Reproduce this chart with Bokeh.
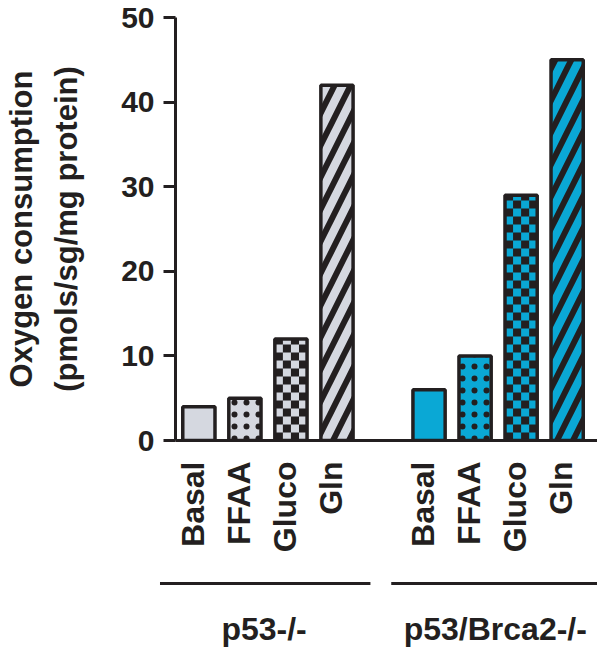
import math
from bokeh.plotting import figure
from bokeh.layouts import column
from bokeh.models import ColumnDataSource, Range1d, FixedTicker
from bokeh.core.properties import value
from bokeh.embed import file_html
from bokeh.resources import INLINE

# ---- data -----------------------------------------------------------------
conditions = ["Basal", "FFAA", "Gluco", "Gln"]
groups = ["p53-/-", "p53/Brca2-/-"]
p53_values = [4, 5, 12, 42]
brca2_values = [6, 10, 29, 45]
group_colors = ["#d5d8e0", "#0aa8d5"]
# fill texture for each condition: blank, dots, checkerboard, diagonal stripes
condition_hatch = [" ", ".", "checker", "/"]
y_ticks = [0, 10, 20, 30, 40, 50]

INK = "#231f20"
FONT = "Liberation Sans"
BAR_W = 0.7

# horizontal scale shared by both panels
PX_PER_UNIT = 46.25
LEFT_BORDER = 173
X0 = -0.508
X1 = X0 + (597 - LEFT_BORDER) / PX_PER_UNIT

# ---- bar table --------------------------------------------------------------
step = len(conditions) + 1
xs, tops, fills, hatches, labels, groupidx = [], [], [], [], [], []
for g, vals in enumerate([p53_values, brca2_values]):
    for i, v in enumerate(vals):
        xs.append(g * step + i)
        tops.append(v)
        fills.append(group_colors[g])
        hatches.append(condition_hatch[i])
        labels.append(conditions[i])
        groupidx.append(g)

def subset(pattern):
    idx = [k for k, h in enumerate(hatches) if h == pattern]
    return ColumnDataSource(dict(x=[xs[k] for k in idx], top=[tops[k] for k in idx],
                                 fill=[fills[k] for k in idx]))

src = ColumnDataSource(dict(x=xs, top=tops, fill=fills))

p = figure(width=597, height=575, output_backend="svg", toolbar_location=None,
           x_range=Range1d(X0, X1), y_range=Range1d(0, 50),
           min_border_left=LEFT_BORDER, min_border_right=0, min_border_top=17,
           min_border_bottom=135)
p.frame_align = False
p.outline_line_color = None
p.grid.visible = False

# plain fills
p.vbar(x="x", top="top", width=BAR_W, bottom=0, source=src,
       fill_color="fill", line_color=None)

# dotted bars
p.vbar(x="x", top="top", width=BAR_W, bottom=0, source=subset("."),
       fill_color="fill", line_color=None,
       hatch_pattern=".", hatch_color=INK, hatch_scale=12, hatch_weight=1.3)

# diagonal-striped bars
p.vbar(x="x", top="top", width=BAR_W, bottom=0, source=subset("/"),
       fill_color="fill", line_color=None,
       hatch_pattern="/", hatch_color=INK, hatch_scale=32, hatch_weight=6)

# checkerboard cells for the glucose bars
cell_cols = 4
cell_h = 8 * 50 / 423.0
ql, qr, qb, qt = [], [], [], []
for k in range(len(xs)):
    if hatches[k] != "checker":
        continue
    left = xs[k] - BAR_W / 2
    cw = BAR_W / cell_cols
    rows = math.ceil(tops[k] / cell_h)
    for r in range(rows):
        for c in range(cell_cols):
            if (r + c) % 2 == 0:
                ql.append(left + c * cw)
                qr.append(left + (c + 1) * cw)
                qb.append(r * cell_h)
                qt.append(min((r + 1) * cell_h, tops[k]))
p.quad(left=ql, right=qr, bottom=qb, top=qt, fill_color=INK, line_color=None)

# bar outlines on top
p.vbar(x="x", top="top", width=BAR_W, bottom=0, source=src,
       fill_color=None, line_color=INK, line_width=3.5)

# ---- axes -----------------------------------------------------------------
ya = p.yaxis[0]
ya.ticker = FixedTicker(ticks=y_ticks)
ya.minor_tick_line_color = None
ya.major_tick_in = 0
ya.major_tick_out = 12
ya.major_tick_line_width = 3
ya.major_tick_line_color = INK
ya.axis_line_width = 3
ya.axis_line_color = INK
ya.major_label_standoff = 9
ya.major_label_text_font = FONT
ya.major_label_text_font_style = "bold"
ya.major_label_text_font_size = "30px"
ya.major_label_text_color = INK
ya.axis_label = "Oxygen consumption\n(pmols/sg/mg protein)"
ya.axis_label_text_font = FONT
ya.axis_label_text_font_style = "bold"
ya.axis_label_text_font_size = "31px"
ya.axis_label_text_color = INK
ya.axis_label_text_line_height = 1.3
ya.axis_label_standoff = 34

# category names sit a little left of the bar centres
LABEL_SHIFT = 0.13
tick_pos = [x - LABEL_SHIFT for x in xs]
xa = p.xaxis[0]
xa.ticker = FixedTicker(ticks=tick_pos)
xa.major_label_overrides = {t: lab for t, lab in zip(tick_pos, labels)}
xa.major_label_orientation = math.pi / 2
xa.minor_tick_line_color = None
xa.major_tick_line_color = None
xa.axis_line_width = 3
xa.axis_line_color = INK
xa.major_label_standoff = 15
xa.major_label_text_font = FONT
xa.major_label_text_font_style = "bold"
xa.major_label_text_font_size = "32px"
xa.major_label_text_color = INK

# ---- group brackets and names (strip below the chart) -----------------------
q = figure(width=597, height=72, output_backend="svg", toolbar_location=None,
           x_range=Range1d(X0 - LEFT_BORDER / PX_PER_UNIT, X1),
           y_range=Range1d(72, 0),
           min_border_left=0, min_border_right=0, min_border_top=0,
           min_border_bottom=0)
q.frame_align = False
q.axis.visible = False
q.grid.visible = False
q.outline_line_color = None

gx0, gx1, gmid = [], [], []
for g in range(len(groups)):
    gx = [x for x, gi in zip(xs, groupidx) if gi == g]
    gx0.append(min(gx) - 0.8)
    gx1.append(max(gx) + 0.75)
    gmid.append(sum(gx) / len(gx) - 0.05)

q.segment(x0=gx0, x1=gx1, y0=[8] * len(groups), y1=[8] * len(groups),
          line_color=INK, line_width=3)
q.text(x=gmid, y=[53] * len(groups), text=groups,
       text_align="center", text_baseline="middle",
       text_font=value(FONT), text_font_style="bold",
       text_font_size="32px", text_color=INK)

layout = column(p, q, spacing=0)
open("out.html", "w").write(file_html(layout, INLINE))
